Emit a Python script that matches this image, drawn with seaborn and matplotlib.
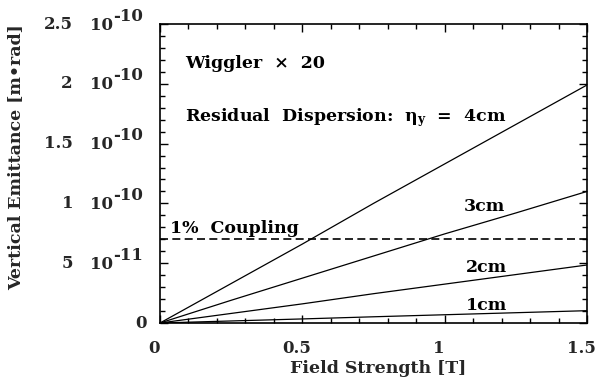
import numpy as np
import pandas as pd
import matplotlib
matplotlib.use("Agg")
import matplotlib.pyplot as plt
from matplotlib.ticker import MultipleLocator, FixedLocator
import seaborn as sns

# ---- data ----
field = [0.0, 0.25, 0.5, 0.75, 1.0, 1.25, 1.5]
emit_4cm = [0.0, 0.33e-10, 0.66e-10, 1.00e-10, 1.33e-10, 1.66e-10, 1.99e-10]
emit_3cm = [0.0, 0.19e-10, 0.375e-10, 0.56e-10, 0.745e-10, 0.92e-10, 1.10e-10]
emit_2cm = [0.0, 0.08e-10, 0.16e-10, 0.245e-10, 0.325e-10, 0.405e-10, 0.485e-10]
emit_1cm = [0.0, 0.017e-10, 0.034e-10, 0.052e-10, 0.069e-10, 0.086e-10, 0.103e-10]
series_names = ["4cm", "3cm", "2cm", "1cm"]
coupling_x = [0.0, 1.5]
coupling_y = [0.7e-10, 0.7e-10]
y_ticks = [0.0, 0.5e-10, 1.0e-10, 1.5e-10, 2.0e-10, 2.5e-10]
y_mantissa = ["0", "5", "1", "1.5", "2", "2.5"]
y_exponent = ["", "-11", "-10", "-10", "-10", "-10"]
x_ticks = [0.0, 0.5, 1.0, 1.5]
x_tick_labels = ["0", "0.5", "1", "1.5"]

rows = []
for name, vals in zip(series_names, [emit_4cm, emit_3cm, emit_2cm, emit_1cm]):
    for b, e in zip(field, vals):
        rows.append({"B": b, "emit": e, "eta": name})
df = pd.DataFrame(rows)
df_c = pd.DataFrame({"B": coupling_x, "emit": coupling_y})

sns.set_style("ticks")
plt.rcParams["font.family"] = ["DejaVu Serif"]
plt.rcParams["font.weight"] = "bold"
plt.rcParams["mathtext.fontset"] = "custom"
plt.rcParams["mathtext.rm"] = "DejaVu Serif:bold"
plt.rcParams["mathtext.it"] = "DejaVu Serif:bold"
plt.rcParams["mathtext.bf"] = "DejaVu Serif:bold"
plt.rcParams["axes.unicode_minus"] = False

PX = 0.72  # points per pixel at dpi 100

fig = plt.figure(figsize=(5.98, 3.92), dpi=100)
ax = fig.add_axes([160/598, 1-323/392, 427/598, 299/392])

sns.lineplot(data=df, x="B", y="emit", hue="eta", palette=["black"]*4,
             legend=False, ax=ax, linewidth=0.9)
sns.lineplot(data=df_c, x="B", y="emit", color="black", ax=ax,
             linewidth=1.2, linestyle=(0, (4.8, 2.6)))

ax.set_xlim(0, 1.5)
ax.set_ylim(0, 2.5e-10)
ax.xaxis.set_major_locator(FixedLocator(x_ticks))
ax.xaxis.set_minor_locator(MultipleLocator(0.1))
ax.yaxis.set_major_locator(FixedLocator(y_ticks))
ax.yaxis.set_minor_locator(MultipleLocator(0.1e-10))
ax.set_xticklabels([""] * len(x_ticks))
ax.set_yticklabels([""] * len(y_ticks))

ax.tick_params(which="both", direction="in", top=True, right=True,
               width=1.0, color="black")
ax.tick_params(which="major", length=6)
ax.tick_params(which="minor", length=3.5)
for s in ax.spines.values():
    s.set_linewidth(1.2)
    s.set_color("black")

fs_tick = 12
# x tick labels
for xv, lab in zip(x_ticks, x_tick_labels):
    ax.annotate(lab, xy=(xv, 0), xycoords=ax.get_xaxis_transform(),
                xytext=(-6 * PX, -17 * PX), textcoords="offset points",
                ha="center", va="top", fontsize=fs_tick, fontweight="bold")
# y tick labels: mantissa, "10", exponent
ytr = ax.get_yaxis_transform()
for yv, man, ex in zip(y_ticks, y_mantissa, y_exponent):
    if ex == "":
        ax.annotate(man, xy=(0, yv), xycoords=ytr, xytext=(-13 * PX, 0),
                    textcoords="offset points", ha="right", va="center",
                    fontsize=fs_tick, fontweight="bold")
        continue
    ax.annotate(man, xy=(0, yv), xycoords=ytr, xytext=(-87 * PX, 0),
                textcoords="offset points", ha="right", va="center",
                fontsize=fs_tick, fontweight="bold")
    ax.annotate("10", xy=(0, yv), xycoords=ytr, xytext=(-47 * PX, -1 * PX),
                textcoords="offset points", ha="right", va="center",
                fontsize=fs_tick, fontweight="bold")
    ax.annotate(ex, xy=(0, yv), xycoords=ytr, xytext=(-17 * PX, 8 * PX),
                textcoords="offset points", ha="right", va="center",
                fontsize=fs_tick, fontweight="bold")

ax.set_xlabel("Field Strength [T]", fontsize=12.5, fontweight="bold")
ax.set_ylabel("Vertical Emittance [m•rad]", fontsize=12.5, fontweight="bold")
ax.xaxis.set_label_coords(0.511, -0.124)
ax.yaxis.set_label_coords(-0.318, 0.555)

tk = dict(fontsize=12.5, fontweight="bold", color="black")
ax.text(0.088, 2.17e-10, "Wiggler  \u00d7  20", va="center", ha="left", **tk)
ax.text(0.088, 1.72e-10, r"Residual  Dispersion:  $\eta_{\mathbf{y}}$  =  4cm",
        va="center", ha="left", **tk)
ax.text(1.14, 0.97e-10, "3cm", va="center", ha="center", **tk)
ax.text(1.147, 0.46e-10, "2cm", va="center", ha="center", **tk)
ax.text(1.147, 0.15e-10, "1cm", va="center", ha="center", **tk)
ax.text(0.035, 0.794e-10, "1%  Coupling", va="center", ha="left", **tk)

fig.savefig("out.png", dpi=100)
